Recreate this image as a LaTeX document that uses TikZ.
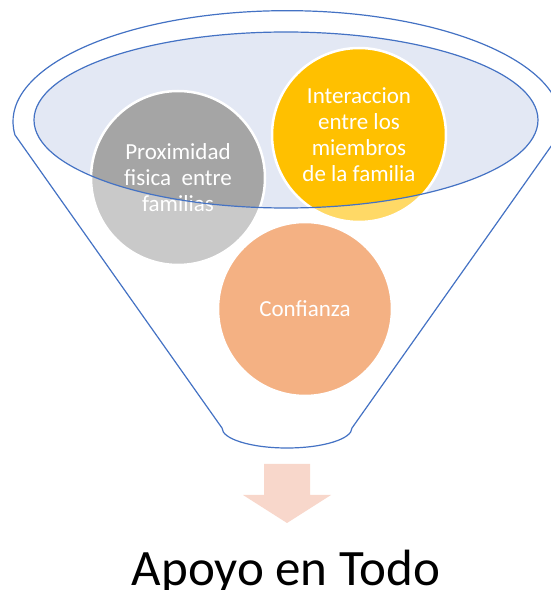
\documentclass[tikz,border=0pt]{standalone}
\usepackage{fontspec}
\setmainfont{Carlito}
\definecolor{funnelblue}{RGB}{68,114,196}
\definecolor{rimfill}{RGB}{227,232,244}
\definecolor{greyball}{RGB}{165,165,165}
\definecolor{goldball}{RGB}{255,192,0}
\definecolor{orangeball}{RGB}{237,125,49}
\definecolor{arrowfill}{RGB}{248,215,203}
\begin{document}
\begin{tikzpicture}[x=1pt,y=1pt,
  ball/.style={circle,draw=white,line width=2.5pt,minimum size=174pt,inner sep=0pt,
    text=white,align=center,font=\fontsize{23}{26}\selectfont},
  outline/.style={draw=funnelblue,line width=1.2pt}]
 \useasboundingbox (0,0) rectangle (551,590);
 % rim of the funnel
 \fill[rimfill] (286,470) ellipse [x radius=252,y radius=88];
 % the three balls
 \node[ball,fill=greyball] (prox) at (178,412) {Proximidad\\fisica~ entre\\familias};
 \node[ball,fill=goldball] (inter) at (359,455) {Interaccion\\entre los\\miembros\\de la familia};
 \node[ball,fill=orangeball] (conf) at (305,281) {Confianza};
 % body of the funnel lightens what is below the rim
 \fill[white,fill opacity=0.4,even odd rule] (0,0) rectangle (551,590)
   (286,470) ellipse [x radius=252,y radius=88];
 \draw[outline] (286,470) ellipse [x radius=252,y radius=88];
 \draw[outline,line join=round] (15,455) arc [start angle=186.9,end angle=-6.9,x radius=274,y radius=111]
   -- (352,162) arc [start angle=0,end angle=-180,x radius=65,y radius=20] -- cycle;
 % arrow
 \fill[arrowfill] (264,126) -- (310,126) -- (310,95) -- (331,95) -- (287,67)
   -- (243,95) -- (264,95) -- cycle;
 \node[anchor=base,font=\fontsize{51}{60}\selectfont,inner sep=0pt] (apoyo) at (286,5) {Apoyo en Todo};
\end{tikzpicture}
\end{document}
